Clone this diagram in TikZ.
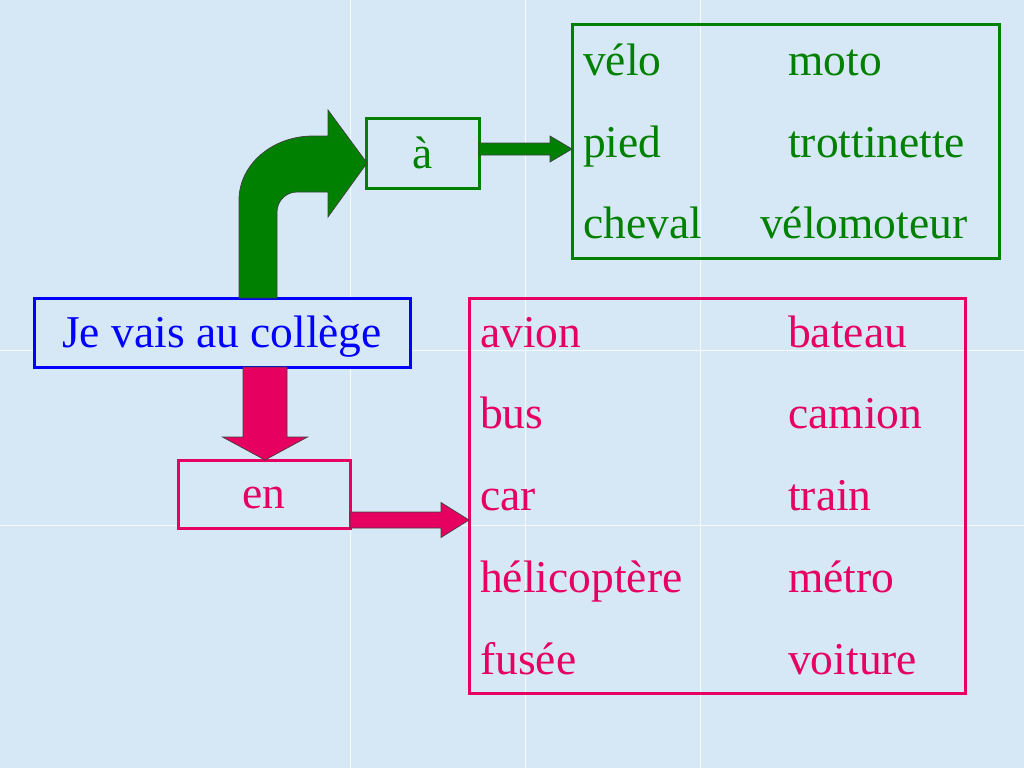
\documentclass[tikz,border=0pt]{standalone}
\usepackage{fontspec}
\setmainfont{Liberation Serif}
\usetikzlibrary{calc}
\definecolor{bg}{RGB}{214,231,245}
\definecolor{gr}{RGB}{0,128,0}
\definecolor{pk}{RGB}{230,0,95}
\definecolor{bl}{RGB}{0,0,255}
\begin{document}
\begin{tikzpicture}[x=1pt,y=-1pt,
  box/.style={draw, line width=3pt, inner sep=0pt, outer sep=0pt},
  word/.style={anchor=base west, inner sep=0pt},
  blk/.style={line width=0.7pt, draw=black!75},
  every node/.style={font=\fontsize{45.5}{54}\selectfont}]
\fill[bg] (0,0) rectangle (1024,768);
\useasboundingbox (0,0) rectangle (1024,768);
% faint tile seams
\draw[white, line width=1pt, opacity=0.85]
  (350,0) -- (350,768) (525,0) -- (525,768) (700,0) -- (700,768)
  (0,350) -- (1024,350) (0,525) -- (1024,525);

% boxes
\node[box, draw=bl, fill=bg, minimum width=376, minimum height=69, text height=29pt, text depth=0pt, text=bl] (je) at (222,332.5) {Je vais au collège};
\node[box, draw=gr, fill=bg, minimum width=113, minimum height=70, text height=30pt, text depth=0pt, text=gr] (a) at (422.5,153) {à};
\node[box, draw=pk, fill=bg, minimum width=172, minimum height=68, text height=28pt, text depth=0pt, text=pk] (en) at (264,494) {en};
\node[box, draw=gr, minimum width=427, minimum height=233] (gbox) at (785.5,141.5) {};
\node[box, draw=pk, minimum width=496, minimum height=395] (pbox) at (717,495.5) {};

% green words
\begin{scope}[every node/.append style={text=gr}]
\node[word] (w1) at (583,75) {vélo};
\node[word] (w2) at (788,75) {moto};
\node[word] (w3) at (583,157) {pied};
\node[word] (w4) at (788,157) {trottinette};
\node[word] (w5) at (583,238) {cheval};
\node[word] (w6) at (760,238) {vélomoteur};
\end{scope}

% pink words
\begin{scope}[every node/.append style={text=pk}]
\node[word] (p1) at (480,347) {avion};
\node[word] (p2) at (788,347) {bateau};
\node[word] (p3) at (480,428) {bus};
\node[word] (p4) at (788,428) {camion};
\node[word] (p5) at (480,510) {car};
\node[word] (p6) at (788,510) {train};
\node[word] (p7) at (480,592) {hélicoptère};
\node[word] (p8) at (788,592) {métro};
\node[word] (p9) at (480,674) {fusée};
\node[word] (p10) at (788,674) {voiture};
\end{scope}

% bent green arrow from je to a
\filldraw[blk, fill=gr] (239,298) -- (239,200)
  .. controls (239,164.7) and (272.1,136) .. (313,136)
  -- (328,136) -- (328,110) -- (367,163) -- (328,217) -- (328,192)
  -- (297,192) .. controls (286,192) and (277,201) .. (277,212)
  -- (277,298) -- cycle;

% green arrow a -> gbox
\filldraw[blk, fill=gr] let \p1=($(a.east)+(0,-4)$), \p2=(gbox.west) in
  (\x1,\y1+6pt) -- (\x2-22pt,\y1+6pt) -- (\x2-22pt,\y1+13pt) -- (\x2,\y1)
  -- (\x2-22pt,\y1-13pt) -- (\x2-22pt,\y1-6pt) -- (\x1,\y1-6pt) -- cycle;

% pink arrow je -> en
\filldraw[blk, fill=pk] let \p1=($(je.south)+(43,0)$), \p2=(en.north) in
  (\x1-22pt,\y1) -- (\x1-22pt,\y2+23pt) -- (\x1-42.5pt,\y2+23pt) -- (\x1,\y2)
  -- (\x1+42.5pt,\y2+23pt) -- (\x1+22pt,\y2+23pt) -- (\x1+22pt,\y1) -- cycle;

% pink arrow en -> pbox
\filldraw[blk, fill=pk] let \p1=($(en.east)+(0,26)$), \p2=(pbox.west) in
  (\x1,\y1+8pt) -- (\x2-28pt,\y1+8pt) -- (\x2-28pt,\y1+17.5pt) -- (\x2,\y1)
  -- (\x2-28pt,\y1-17.5pt) -- (\x2-28pt,\y1-8pt) -- (\x1,\y1-8pt) -- cycle;
\end{tikzpicture}
\end{document}
